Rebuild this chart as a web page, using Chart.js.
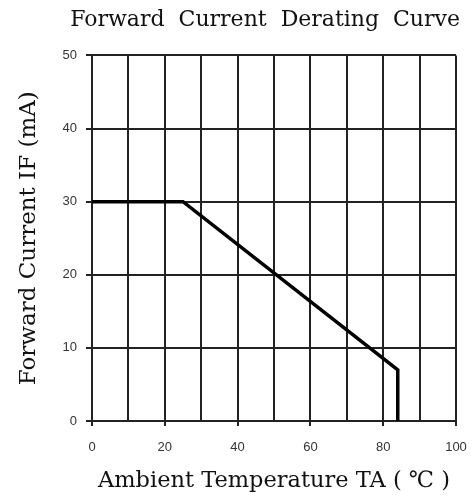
<!DOCTYPE html>
<html>
<head>
<meta charset="utf-8">
<script src="https://cdn.jsdelivr.net/npm/chart.js@4/dist/chart.umd.min.js"></script>
<style>
  html, body { margin: 0; padding: 0; background: #fff; }
  canvas { display: block; }
</style>
</head>
<body>
<canvas id="derating" width="475" height="497"></canvas>
<script>
// Derating curve: ambient temperature (°C) vs. maximum forward current (mA)
const temperatureC = [0, 25, 84, 84];
const forwardCurrentMA = [30, 30, 7, 0];

// Labelled ticks on each axis
const xTickLabels = [0, 20, 40, 60, 80, 100];
const yTickLabels = [0, 10, 20, 30, 40, 50];

const serif = '"DejaVu Serif", "Liberation Serif", serif';
const sans = '"Liberation Sans", Arial, sans-serif';
const gridColor = '#222';

const points = temperatureC.map((t, i) => ({ x: t, y: forwardCurrentMA[i] }));

new Chart(document.getElementById('derating'), {
  type: 'line',
  data: {
    datasets: [{
      data: points,
      borderColor: '#000',
      borderWidth: 3.5,
      pointRadius: 0,
      tension: 0,
      fill: false
    }]
  },
  options: {
    responsive: false,
    animation: false,
    layout: { padding: { left: 0, right: 15, top: 0, bottom: 0 } },
    plugins: {
      legend: { display: false },
      tooltip: { enabled: false },
      title: {
        display: true,
        text: 'Forward  Current  Derating  Curve',
        align: 'end',
        color: '#111',
        font: { family: serif, size: 22, weight: 'normal', lineHeight: 1.2 },
        padding: { top: 7, bottom: 22 }
      }
    },
    scales: {
      x: {
        type: 'linear',
        min: 0,
        max: 100,
        afterFit(scale) {
          scale.height = 76;
          scale.paddingLeft = 0;
          scale.paddingRight = 19;
        },
        ticks: {
          stepSize: 10,
          autoSkip: false,
          maxRotation: 0,
          padding: 14,
          color: '#333',
          font: { family: sans, size: 13 },
          callback: v => (xTickLabels.includes(v) ? String(v) : '')
        },
        grid: {
          color: gridColor,
          lineWidth: 2,
          tickLength: 5,
          tickColor: ctx => (ctx.tick && xTickLabels.includes(ctx.tick.value) ? gridColor : 'rgba(0,0,0,0)')
        },
        border: { color: gridColor, width: 2 },
        title: {
          display: true,
          text: 'Ambient Temperature TA ( ℃ )',
          color: '#111',
          font: { family: serif, size: 22.5, lineHeight: 1.2 },
          padding: { top: 0, bottom: 2 }
        }
      },
      y: {
        type: 'linear',
        min: 0,
        max: 50,
        afterFit(scale) { scale.width = 92; },
        ticks: {
          stepSize: 10,
          padding: 9,
          color: '#333',
          font: { family: sans, size: 13 },
          callback: v => (yTickLabels.includes(v) ? String(v) : '')
        },
        grid: {
          color: gridColor,
          lineWidth: 2,
          tickLength: 6,
          tickColor: gridColor
        },
        border: { color: gridColor, width: 2 },
        title: {
          display: true,
          text: 'Forward Current IF (mA)',
          color: '#111',
          font: { family: serif, size: 23, lineHeight: 1.2 },
          padding: { top: 15, bottom: 0 }
        }
      }
    }
  }
});
</script>
</body>
</html>
